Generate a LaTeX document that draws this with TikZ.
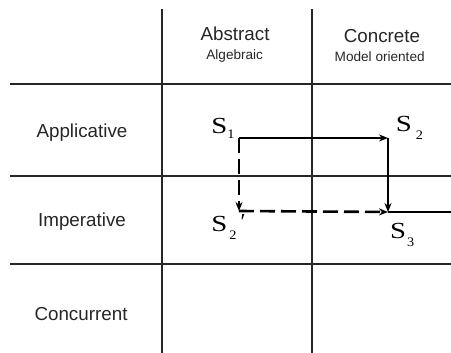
\documentclass[tikz,border=0pt]{standalone}
\usepackage{fontspec}
\setmainfont{Liberation Serif}
\setsansfont{Liberation Sans}
\usetikzlibrary{arrows.meta}

% 状态名：加宽的 S + 压低的下标（#2 间距, #3 下沉）
\newcommand\stname[3]{\scalebox{1.25}[1]{S}\hspace{#2}\raisebox{-#3}{\scalebox{1.1}[1]{\fontsize{13}{13}\selectfont #1}}}

\begin{document}
\begin{tikzpicture}[x=1pt, y=-1pt, line width=1.7pt,
  grid/.style={line width=1.8pt, draw=black!85},
  hd/.style={anchor=base, inner sep=0pt, text=black!85, font=\sffamily\fontsize{18.8}{23}\selectfont},
  subhd/.style={anchor=base, inner sep=0pt, text=black!85, font=\sffamily\fontsize{13.6}{17}\selectfont},
  st/.style={anchor=base west, inner sep=0pt, font=\fontsize{23}{27}\selectfont},
  flow/.style={-{Stealth[length=9pt,width=7pt]}},
  alt/.style={flow, line width=2.6pt, dash pattern=on 15pt off 6pt}]

  %% ════ 表格线 ════
  \draw[grid] (162,9) -- (162,353);
  \draw[grid] (312,9) -- (312,353);
  \draw[grid] (10,84) -- (451,84);
  \draw[grid] (10,176) -- (451,176);
  \draw[grid] (10,264) -- (451,264);

  %% ════ 表头 ════
  \node[hd] (abs) at (235,40.7) {Abstract};
  \node[subhd] (alg) at (234.7,60) {Algebraic};
  \node[hd] (con) at (382,42.3) {Concrete};
  \node[subhd] (mod) at (379.7,61.7) {Model oriented};
  \node[hd] (app) at (82,138) {Applicative};
  \node[hd] (imp) at (82,226.5) {Imperative};
  \node[hd] (ccr) at (81,320.5) {Concurrent};

  %% ════ 状态角点 ════
  \coordinate (s1) at (239,138);
  \coordinate (s2) at (388,138);
  \coordinate (s3) at (388,212);
  \coordinate (s2p) at (239,211);
  \coordinate (rim) at (451,212);

  %% ════ 状态标签 ════
  \node[st] (l1) at (210.6,133.5) {\stname{1}{0pt}{5pt}};
  \node[st] (l2) at (395,131.7) {\stname{2}{4pt}{8.3pt}};
  \node[st] (l2p) at (210.6,231.7) {\stname{2}{2pt}{7.6pt}\hspace{4pt}\raisebox{2pt}{′}};
  \node[st] (l3) at (389.3,238.3) {\stname{3}{1pt}{8.5pt}};

  %% ════ 箭头 ════
  \draw[flow] (s1) -- (s2);
  \draw[flow] (s2) -- (s3);
  \draw (s3) -- (rim);
  \draw[alt] (s1) -- (s2p);
  \draw[alt] (s2p) -- (s3);

  % 固定画布
  \pgfresetboundingbox
  \path[use as bounding box] (0,0) rectangle (451,353);
\end{tikzpicture}
\end{document}
